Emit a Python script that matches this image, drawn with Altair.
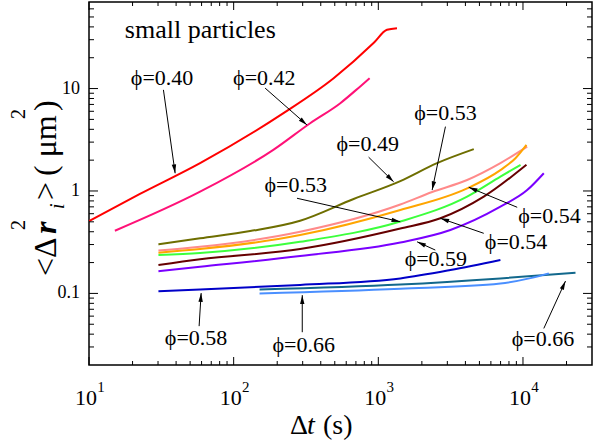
import math
import altair as alt
import pandas as pd

FONT = "Liberation Serif, DejaVu Serif, serif"
W, H = 503, 363
X_DOMAIN = [10, 30000]
Y_DOMAIN = [0.02, 70]

# ---- data: lag time (s) and MSD (um^2) ----
t_040 = [10, 22.5, 58.6, 221, 491, 927, 1148, 1346]
m_040 = [0.509, 0.935, 1.87, 5.75, 12.6, 27.8, 37.5, 38.9]

t_042 = [15.1, 58.6, 188, 338, 546, 750, 871]
m_042 = [0.409, 0.984, 2.52, 4.59, 7.20, 10.5, 12.6]

t_049 = [30.2, 58.6, 130, 288, 675, 1419, 2547, 4571]
m_049 = [0.301, 0.345, 0.406, 0.513, 0.835, 1.25, 1.87, 2.56]

t_053a = [30.2, 58.6, 288, 1419, 2355, 4111, 6982, 10690]
m_053a = [0.262, 0.285, 0.400, 0.738, 0.978, 1.28, 1.87, 2.71]

t_054a = [30.2, 58.6, 288, 1419, 4111, 6982, 8870, 10570]
m_054a = [0.250, 0.271, 0.371, 0.652, 1.06, 1.60, 2.09, 2.82]

t_053b = [30.2, 58.6, 288, 1419, 4111, 6982, 9620]
m_053b = [0.237, 0.248, 0.319, 0.503, 0.880, 1.38, 1.80]

t_054b = [30.2, 58.6, 288, 1419, 2686, 5357, 10570]
m_054b = [0.189, 0.215, 0.271, 0.430, 0.541, 0.880, 1.80]

t_059 = [30.2, 58.6, 288, 1419, 3148, 6982, 10690, 13930]
m_059 = [0.165, 0.182, 0.232, 0.314, 0.416, 0.703, 1.02, 1.49]

t_058 = [30.2, 58.6, 288, 1419, 3148, 6982]
m_058 = [0.105, 0.109, 0.121, 0.140, 0.169, 0.212]

t_066a = [151, 1419, 6982, 23070]
m_066a = [0.109, 0.122, 0.140, 0.159]

t_066b = [151, 1419, 6982, 11270, 15100]
m_066b = [0.100, 0.111, 0.125, 0.141, 0.157]

series_keys = ["0.40", "0.42", "0.49", "0.53a", "0.54a", "0.53b", "0.54b",
               "0.59", "0.58", "0.66a", "0.66b"]
series_colors = ["#ff0000", "#ff1177", "#6e6e00", "#ff8a8a", "#ffa500",
                 "#3cff3c", "#660000", "#7a00ff", "#0000c8", "#12688c", "#4a8fff"]
series_t = [t_040, t_042, t_049, t_053a, t_054a, t_053b, t_054b, t_059, t_058, t_066a, t_066b]
series_m = [m_040, m_042, m_049, m_053a, m_054a, m_053b, m_054b, m_059, m_058, m_066a, m_066b]

# ---- annotations ----
ann_text = ["ϕ=0.40", "ϕ=0.42", "ϕ=0.49", "ϕ=0.53", "ϕ=0.53", "ϕ=0.54",
            "ϕ=0.54", "ϕ=0.59", "ϕ=0.58", "ϕ=0.66", "ϕ=0.66"]
ann_x = [32.0, 163, 845, 2911, 268.5, 15240, 8955, 2500, 55.0, 305, 13740]
ann_y = [12.6, 12.6, 2.88, 5.79, 1.14, 0.570, 0.319, 0.216, 0.0366, 0.0312, 0.0358]

arr_tx = [32.7, 165, 857, 2911, 274, 9120, 5357, 2477, 57.7, 298, 13930]
arr_ty = [9.71, 10.1, 2.14, 4.25, 0.849, 0.693, 0.386, 0.265, 0.0479, 0.0418, 0.0455]
arr_hx = [39.4, 321, 1276, 2355, 1419, 4217, 2686, 1854, 59.6, 298, 19680]
arr_hy = [1.49, 4.42, 1.23, 1.02, 0.501, 1.087, 0.541, 0.319, 0.1007, 0.0962, 0.132]

# ---- axis ticks and labels ----
x_major = [10, 100, 1000, 10000]
x_minor = [20, 30, 40, 50, 60, 70, 80, 90,
           200, 300, 400, 500, 600, 700, 800, 900,
           2000, 3000, 4000, 5000, 6000, 7000, 8000, 9000, 20000]
x_label_base = ["10", "10", "10", "10"]
x_label_exp = ["1", "2", "3", "4"]
y_major = [0.1, 1, 10]
y_minor = [0.03, 0.04, 0.05, 0.06, 0.07, 0.08, 0.09,
           0.2, 0.3, 0.4, 0.5, 0.6, 0.7, 0.8, 0.9,
           2, 3, 4, 5, 6, 7, 8, 9, 20, 30, 40, 50, 60]
y_labels = ["0.1", "1", "10"]

# ---- build tables ----
rows = []
for k, ts, ms in zip(series_keys, series_t, series_m):
    for i, (t, m) in enumerate(zip(ts, ms)):
        rows.append({"series": k, "t": t, "m": m, "i": i})
df = pd.DataFrame(rows)

xs = alt.Scale(type="log", domain=X_DOMAIN, nice=False)
ys = alt.Scale(type="log", domain=Y_DOMAIN, nice=False)
px_per_dec_x = W / (math.log10(X_DOMAIN[1]) - math.log10(X_DOMAIN[0]))
px_per_dec_y = H / (math.log10(Y_DOMAIN[1]) - math.log10(Y_DOMAIN[0]))

angs = []
for tx, ty, hx, hy in zip(arr_tx, arr_ty, arr_hx, arr_hy):
    dxp = (math.log10(hx) - math.log10(tx)) * px_per_dec_x
    dyp = -(math.log10(hy) - math.log10(ty)) * px_per_dec_y
    angs.append(math.degrees(math.atan2(dxp, -dyp)) % 360)
arr_df = pd.DataFrame({"tx": arr_tx, "ty": arr_ty, "hx": arr_hx, "hy": arr_hy, "ang": angs})
ann_df = pd.DataFrame({"label": ann_text, "x": ann_x, "y": ann_y})

lines = alt.Chart(df).mark_line(strokeWidth=2, clip=True, interpolate="monotone").encode(
    x=alt.X("t:Q", scale=xs, axis=None),
    y=alt.Y("m:Q", scale=ys, axis=None),
    color=alt.Color("series:N", scale=alt.Scale(domain=series_keys, range=series_colors), legend=None),
    order=alt.Order("i:Q"),
)

arrows = alt.Chart(arr_df).mark_rule(color="black", strokeWidth=1).encode(
    x=alt.X("tx:Q", scale=xs, axis=None),
    y=alt.Y("ty:Q", scale=ys, axis=None),
    x2="hx:Q", y2="hy:Q",
)
heads = alt.Chart(arr_df).mark_point(
    shape="M0,0L-0.55,2.2L0.55,2.2Z", filled=True, size=64, color="black",
    strokeWidth=0, opacity=1,
).encode(
    x=alt.X("hx:Q", scale=xs, axis=None),
    y=alt.Y("hy:Q", scale=ys, axis=None),
    angle=alt.Angle("ang:Q", scale=None),
)

ann = alt.Chart(ann_df).mark_text(font=FONT, fontSize=22, color="black",
                                  align="center", baseline="middle").encode(
    x=alt.X("x:Q", scale=xs, axis=None),
    y=alt.Y("y:Q", scale=ys, axis=None),
    text="label:N",
)

title_df = pd.DataFrame({"x": [17.7], "y": [31.3], "label": ["small particles"]})
small = alt.Chart(title_df).mark_text(font=FONT, fontSize=26, color="black",
                                      align="left", baseline="alphabetic").encode(
    x=alt.X("x:Q", scale=xs, axis=None),
    y=alt.Y("y:Q", scale=ys, axis=None),
    text="label:N",
)


def xticks(vals, length):
    d = pd.DataFrame({"v": vals})
    base = alt.Chart(d).mark_rule(color="black", strokeWidth=1)
    bot = base.encode(x=alt.X("v:Q", scale=xs, axis=None), y=alt.value(H), y2=alt.value(H - length))
    top = base.encode(x=alt.X("v:Q", scale=xs, axis=None), y=alt.value(0), y2=alt.value(length))
    return [bot, top]


def yticks(vals, length):
    d = pd.DataFrame({"v": vals})
    base = alt.Chart(d).mark_rule(color="black", strokeWidth=1)
    left = base.encode(y=alt.Y("v:Q", scale=ys, axis=None), x=alt.value(0), x2=alt.value(length))
    right = base.encode(y=alt.Y("v:Q", scale=ys, axis=None), x=alt.value(W), x2=alt.value(W - length))
    return [left, right]


tick_layers = xticks(x_major, 8) + xticks(x_minor, 4) + yticks(y_major, 9) + yticks(y_minor, 5)

xlab_df = pd.DataFrame({"v": x_major, "base": x_label_base, "exp": x_label_exp})
xlab = alt.Chart(xlab_df).mark_text(font=FONT, fontSize=22, color="black", align="center",
                                    baseline="middle", dx=-3).encode(
    x=alt.X("v:Q", scale=xs, axis=None), y=alt.value(H + 33), text="base:N")
xexp = alt.Chart(xlab_df).mark_text(font=FONT, fontSize=15, color="black", align="center",
                                    baseline="middle", dx=12).encode(
    x=alt.X("v:Q", scale=xs, axis=None), y=alt.value(H + 22), text="exp:N")

ylab_df = pd.DataFrame({"v": y_major, "lab": y_labels})
ylab = alt.Chart(ylab_df).mark_text(font=FONT, fontSize=18, color="black", align="right",
                                    baseline="middle").encode(
    y=alt.Y("v:Q", scale=ys, axis=None), x=alt.value(-9), text="lab:N")

one = pd.DataFrame({"a": [0]})


def piece(text, x, y, size, angle=0, style="normal", weight="normal"):
    return alt.Chart(one).mark_text(
        text=text, font=FONT, fontSize=size, fontStyle=style, fontWeight=weight,
        angle=angle, align="left", baseline="alphabetic", color="black",
    ).encode(x=alt.value(x), y=alt.value(y))


# x axis title: "Δt (s)"
xtitle = [
    piece("Δ", 201, 432, 28),
    piece("t", 218, 432, 28, style="italic"),
    piece("(s)", 234, 432, 28),
]
# y axis title: "<Δr_i^2> ( μm^2)" rotated
ytitle = [
    piece("<Δ", -33, 274, 32, angle=270),
    piece("r", -33, 232, 32, angle=270, style="italic", weight="bold"),
    piece("2", -64, 228, 20, angle=270),
    piece("i", -25, 207, 20, angle=270, style="italic"),
    piece(">", -33, 198, 32, angle=270),
    piece("( μm", -33, 174, 32, angle=270),
    piece("2", -64, 117, 20, angle=270),
    piece(")", -33, 109, 32, angle=270),
]

chart = alt.layer(
    lines, arrows, heads, ann, small, xlab, xexp, ylab, *tick_layers, *xtitle, *ytitle
).properties(
    width=W, height=H,
    padding={"left": 89, "top": 2, "right": 4, "bottom": 82},
    autosize=alt.AutoSizeParams(type="none"),
).configure_view(stroke="black", strokeWidth=1.5)

chart.save("out.html", embed_options={"renderer": "svg", "actions": False})
